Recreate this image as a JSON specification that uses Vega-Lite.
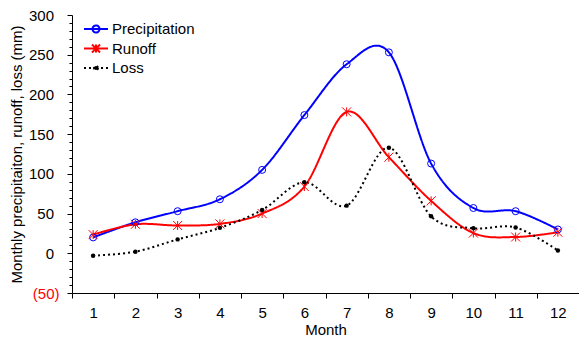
{
  "$schema": "https://vega.github.io/schema/vega-lite/v6.json",
  "width": 507,
  "height": 278,
  "autosize": "none",
  "padding": {"left": 72, "top": 15, "right": 0, "bottom": 46},
  "config": {
    "view": {"stroke": null},
    "font": "Liberation Sans",
    "axis": {"labelFont": "Liberation Sans", "titleFont": "Liberation Sans", "labelFontSize": 15, "titleFontSize": 15, "titleFontWeight": "normal", "labelColor": "#000", "titleColor": "#000", "domainColor": "#000", "tickColor": "#000", "grid": false}
  },
  "data": {"values": [
    {"Month": 1, "Series": "Precipitation", "Value": 20},
    {"Month": 2, "Series": "Precipitation", "Value": 39},
    {"Month": 3, "Series": "Precipitation", "Value": 53},
    {"Month": 4, "Series": "Precipitation", "Value": 68},
    {"Month": 5, "Series": "Precipitation", "Value": 105},
    {"Month": 6, "Series": "Precipitation", "Value": 174},
    {"Month": 7, "Series": "Precipitation", "Value": 238},
    {"Month": 8, "Series": "Precipitation", "Value": 253},
    {"Month": 9, "Series": "Precipitation", "Value": 113},
    {"Month": 10, "Series": "Precipitation", "Value": 57},
    {"Month": 11, "Series": "Precipitation", "Value": 53},
    {"Month": 12, "Series": "Precipitation", "Value": 30},
    {"Month": 1, "Series": "Runoff", "Value": 23.5},
    {"Month": 2, "Series": "Runoff", "Value": 36.5},
    {"Month": 3, "Series": "Runoff", "Value": 35},
    {"Month": 4, "Series": "Runoff", "Value": 37},
    {"Month": 5, "Series": "Runoff", "Value": 50},
    {"Month": 6, "Series": "Runoff", "Value": 84},
    {"Month": 7, "Series": "Runoff", "Value": 178},
    {"Month": 8, "Series": "Runoff", "Value": 121},
    {"Month": 9, "Series": "Runoff", "Value": 66},
    {"Month": 10, "Series": "Runoff", "Value": 25.5},
    {"Month": 11, "Series": "Runoff", "Value": 20.5},
    {"Month": 12, "Series": "Runoff", "Value": 26.5},
    {"Month": 1, "Series": "Loss", "Value": -3},
    {"Month": 2, "Series": "Loss", "Value": 2},
    {"Month": 3, "Series": "Loss", "Value": 17.5},
    {"Month": 4, "Series": "Loss", "Value": 32},
    {"Month": 5, "Series": "Loss", "Value": 54.5},
    {"Month": 6, "Series": "Loss", "Value": 89.5},
    {"Month": 7, "Series": "Loss", "Value": 60},
    {"Month": 8, "Series": "Loss", "Value": 133},
    {"Month": 9, "Series": "Loss", "Value": 46.5},
    {"Month": 10, "Series": "Loss", "Value": 31.5},
    {"Month": 11, "Series": "Loss", "Value": 32.5},
    {"Month": 12, "Series": "Loss", "Value": 3.5}
  ]},
  "encoding": {
    "x": {"field": "Month", "type": "ordinal", "scale": {"paddingInner": 0, "paddingOuter": 0},
      "axis": {"title": "Month", "labelAngle": 0, "tickBand": "extent", "tickSize": 5, "labelPadding": 7, "titlePadding": 2, "domainWidth": 1}},
    "y": {"field": "Value", "type": "quantitative", "scale": {"domain": [-50, 300], "nice": false, "zero": false},
      "axis": {"title": "Monthly precipitaiton, runoff, loss (mm)", "titlePadding": 4,
        "values": [-50,-40,-30,-20,-10,0,10,20,30,40,50,60,70,80,90,100,110,120,130,140,150,160,170,180,190,200,210,220,230,240,250,260,270,280,290,300],
        "labelExpr": "datum.value % 50 == 0 ? (datum.value < 0 ? '(' + abs(datum.value) + ')' : '' + datum.value) : ''",
        "labelColor": {"condition": {"test": "datum.value < 0", "value": "#ff0000"}, "value": "#000000"},
        "tickSize": {"condition": {"test": "datum.value % 50 == 0", "value": 5}, "value": 3},
        "labelPadding": {"condition": {"test": "datum.value < 0", "value": 8}, "value": 13.5}}}
  },
  "layer": [
    {
      "mark": {"type": "line", "interpolate": "cardinal"},
      "encoding": {
        "color": {"field": "Series", "type": "nominal",
          "scale": {"domain": ["Precipitation", "Runoff", "Loss"], "range": ["#0000ff", "#ff0000", "#000000"]},
          "legend": {"title": null, "orient": "none", "legendX": 15, "legendY": 5, "padding": 0,
            "symbolSize": 256, "labelOffset": 7, "rowPadding": 2.5, "labelFontSize": 15, "labelFont": "Liberation Sans", "labelColor": "#000",
            "encode": {"symbols": {"update": {
              "shape": {"signal": "datum.value == 'Precipitation' ? 'M-1.5,0L1.5,0M0.44,0A0.44,0.44,0,1,1,-0.44,0A0.44,0.44,0,1,1,0.44,0' : (datum.value == 'Runoff' ? 'M-1.5,0L1.5,0M-0.5,-0.5L0.5,0.5M-0.5,0.5L0.5,-0.5M0,-0.5L0,0.5' : 'M-1.5,0L-1.25,0M-0.875,0L-0.625,0M0.625,0L0.875,0M1.25,0L1.5,0M0.25,0A0.25,0.25,0,1,1,-0.25,0A0.25,0.25,0,1,1,0.25,0')"},
              "fill": {"signal": "datum.value == 'Loss' ? '#000000' : 'transparent'"},
              "strokeWidth": {"signal": "datum.value == 'Loss' ? 1.5 : 2"},
              "strokeDash": {"value": []}
            }}}}},
        "strokeDash": {"field": "Series", "type": "nominal", "scale": {"domain": ["Precipitation", "Runoff", "Loss"], "range": [[1, 0], [1, 0], [2, 3]]}, "legend": null},
        "strokeWidth": {"field": "Series", "type": "nominal", "scale": {"domain": ["Precipitation", "Runoff", "Loss"], "range": [2, 2, 1.5]}, "legend": null}
      }
    },
    {
      "transform": [{"filter": "datum.Series == 'Precipitation'"}],
      "mark": {"type": "point", "shape": "circle", "filled": false, "color": "#0000ff", "size": 49, "strokeWidth": 1, "opacity": 1}
    },
    {
      "transform": [{"filter": "datum.Series == 'Runoff'"}],
      "mark": {"type": "point", "shape": "M-1,-1L1,1M-1,1L1,-1M0,-1L0,1", "filled": false, "color": "#ff0000", "size": 81, "strokeWidth": 1, "opacity": 1}
    },
    {
      "transform": [{"filter": "datum.Series == 'Loss'"}],
      "mark": {"type": "point", "shape": "circle", "filled": true, "color": "#000000", "size": 20, "opacity": 1}
    }
  ]
}
